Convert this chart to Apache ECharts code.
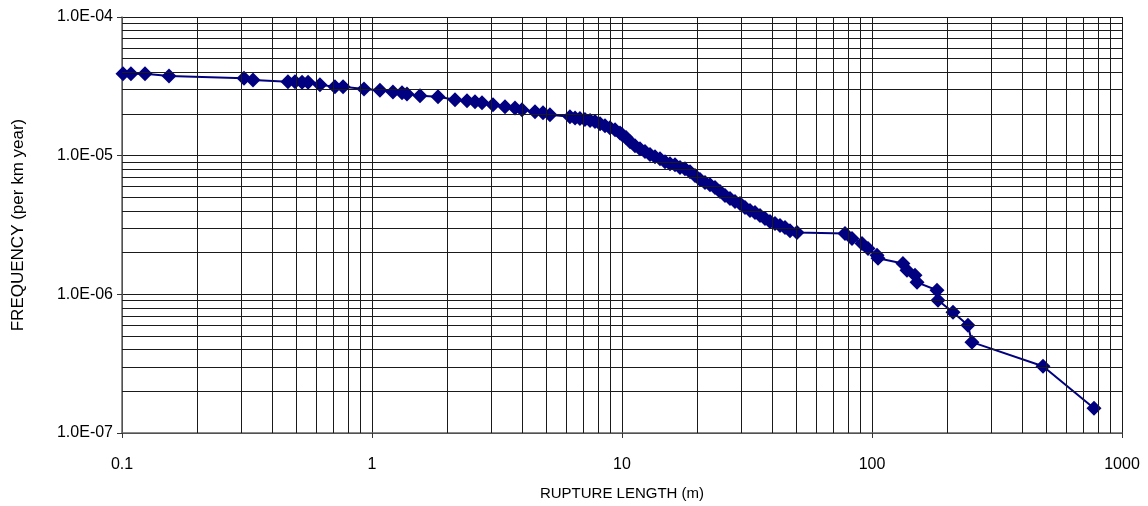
<!DOCTYPE html>
<html>
<head>
<meta charset="utf-8">
<script src="https://cdn.jsdelivr.net/npm/echarts@6/dist/echarts.min.js"></script>
<style>
  html, body { margin: 0; padding: 0; background: #fff; }
  #chart { width: 1148px; height: 506px; }
</style>
</head>
<body>
<div id="chart"></div>
<script>
// rupture length (m)
const ruptureLength = [
  0.1009, 0.1086, 0.1236, 0.1542, 0.3076, 0.3342, 0.461, 0.492, 0.525, 0.555,
  0.619, 0.711, 0.766, 0.929, 1.076, 1.213, 1.318, 1.38, 1.556, 1.837,
  2.148, 2.399, 2.582, 2.754, 3.048, 3.404, 3.733, 3.98, 4.487, 4.83,
  5.15, 6.19, 6.49, 6.79, 7.11, 7.45, 7.80, 8.17, 8.55, 8.95,
  9.38, 9.82, 10.0, 10.38, 10.77, 11.27, 11.80, 12.36, 12.94, 13.55,
  14.19, 14.86, 15.56, 16.29, 17.06, 17.86, 18.71, 19.59, 20.51, 21.48,
  22.49, 23.55, 24.66, 25.82, 27.04, 28.31, 29.65, 31.05, 32.51, 34.04,
  35.65, 37.33, 39.08, 40.93, 42.85, 44.87, 46.99, 50.12,
  78.0, 83.2, 91.2, 96.4, 104.7, 105.7, 133, 138, 148.6, 151.4,
  182, 183.7, 210.9, 242, 251, 483, 772.7
];
// frequency (per km year)
const frequency = [
  3.89e-5, 3.89e-5, 3.89e-5, 3.76e-5, 3.61e-5, 3.52e-5, 3.41e-5, 3.41e-5, 3.38e-5, 3.38e-5,
  3.24e-5, 3.14e-5, 3.14e-5, 3.03e-5, 2.96e-5, 2.88e-5, 2.84e-5, 2.79e-5, 2.70e-5, 2.66e-5,
  2.53e-5, 2.49e-5, 2.45e-5, 2.41e-5, 2.33e-5, 2.25e-5, 2.21e-5, 2.14e-5, 2.07e-5, 2.04e-5,
  1.97e-5, 1.91e-5, 1.87e-5, 1.85e-5, 1.82e-5, 1.79e-5, 1.76e-5, 1.70e-5, 1.64e-5, 1.59e-5,
  1.54e-5, 1.46e-5, 1.42e-5, 1.35e-5, 1.26e-5, 1.18e-5, 1.12e-5, 1.07e-5, 1.02e-5, 9.84e-6,
  9.51e-6, 9.05e-6, 8.75e-6, 8.61e-6, 8.20e-6, 8.06e-6, 7.67e-6, 7.18e-6, 6.72e-6, 6.40e-6,
  6.18e-6, 5.89e-6, 5.51e-6, 5.16e-6, 4.91e-6, 4.67e-6, 4.52e-6, 4.23e-6, 4.02e-6, 3.89e-6,
  3.70e-6, 3.52e-6, 3.35e-6, 3.24e-6, 3.13e-6, 3.03e-6, 2.88e-6, 2.79e-6,
  2.75e-6, 2.53e-6, 2.33e-6, 2.14e-6, 1.91e-6, 1.82e-6, 1.67e-6, 1.49e-6, 1.37e-6, 1.22e-6,
  1.07e-6, 9.06e-7, 7.43e-7, 5.99e-7, 4.52e-7, 3.03e-7, 1.51e-7
];

const xDecades = [0.1, 1, 10, 100];
const yDecades = [1e-7, 1e-6, 1e-5];
const minorSteps = [2, 3, 4, 5, 6, 7, 8, 9];

const seriesData = ruptureLength.map((x, i) => [x, frequency[i]]);

// minor gridlines at 2..9 of each decade
const minorLines = [];
xDecades.forEach(d => minorSteps.forEach(m => minorLines.push({ xAxis: +(m * d).toPrecision(3) })));
yDecades.forEach(d => minorSteps.forEach(m => minorLines.push({ yAxis: +(m * d).toPrecision(3) })));

const gridColor = '#1a1a1a';
const font = 'Liberation Sans, Arial, sans-serif';

const chart = echarts.init(document.getElementById('chart'));

const option = {
  backgroundColor: '#fff',
  animation: false,
  grid: { left: 122, right: 26, top: 17, bottom: 72 },
  xAxis: {
    type: 'log',
    logBase: 10,
    min: 0.1,
    max: 1000,
    name: 'RUPTURE LENGTH (m)',
    nameLocation: 'middle',
    nameGap: 53,
    nameTextStyle: { fontFamily: font, fontSize: 15, color: '#000' },
    axisLine: { show: true, onZero: false, lineStyle: { color: '#666', width: 1.5 } },
    axisTick: { show: true, inside: false, length: 5, lineStyle: { color: '#333' } },
    axisLabel: {
      fontFamily: font, fontSize: 16, color: '#000', margin: 24,
      formatter: v => String(+Number(v).toPrecision(3))
    },
    splitLine: { show: true, lineStyle: { color: gridColor, width: 1 } }
  },
  yAxis: {
    type: 'log',
    logBase: 10,
    min: 1e-7,
    max: 1e-4,
    name: 'FREQUENCY (per km year)',
    nameLocation: 'middle',
    nameGap: 95,
    nameTextStyle: { fontFamily: font, fontSize: 17, color: '#000' },
    axisLine: { show: true, onZero: false, lineStyle: { color: '#666', width: 1.5 } },
    axisTick: { show: true, inside: false, length: 5, lineStyle: { color: '#333' } },
    axisLabel: {
      fontFamily: font, fontSize: 16, color: '#000', margin: 9,
      formatter: v => {
        const e = Math.round(Math.log10(v));
        const m = v / Math.pow(10, e);
        const sign = e < 0 ? '-' : '+';
        return m.toFixed(1) + 'E' + sign + String(Math.abs(e)).padStart(2, '0');
      }
    },
    splitLine: { show: true, lineStyle: { color: gridColor, width: 1 } }
  },
  series: [
    {
      // carries the minor gridlines, drawn below the data
      type: 'line',
      data: seriesData,
      symbol: 'none',
      silent: true,
      z: 1,
      lineStyle: { opacity: 0 },
      markLine: {
        silent: true,
        symbol: 'none',
        animation: false,
        precision: 12,
        label: { show: false },
        lineStyle: { color: gridColor, width: 1, type: 'solid' },
        emphasis: { disabled: true },
        data: minorLines
      }
    },
    {
      type: 'line',
      data: seriesData,
      z: 3,
      symbol: 'diamond',
      symbolSize: 15,
      showAllSymbol: true,
      itemStyle: { color: '#000080' },
      lineStyle: { color: '#000080', width: 2 }
    }
  ]
};

chart.setOption(option);
</script>
</body>
</html>
